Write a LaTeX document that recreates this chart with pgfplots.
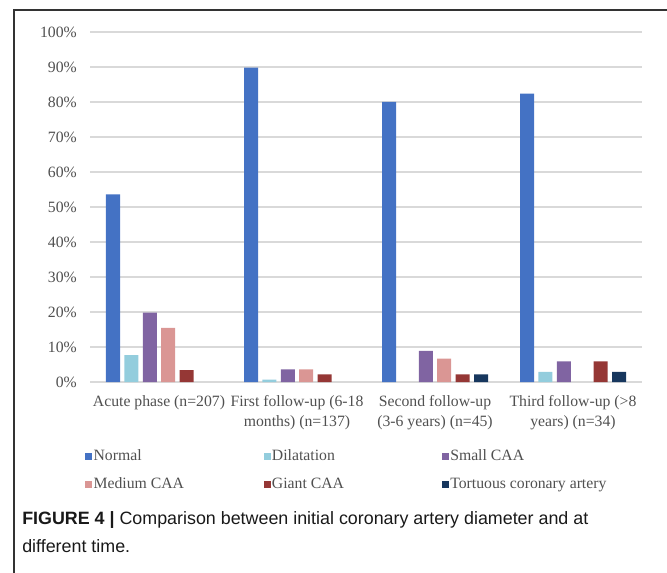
\documentclass[border=0pt]{standalone}
\usepackage{fontspec}
\setmainfont{Liberation Serif}
\newfontfamily\capfont{Liberation Sans}
\usepackage{pgfplots}
\pgfplotsset{compat=1.18}
\definecolor{cNormal}{HTML}{4472C4}
\definecolor{cDil}{HTML}{93CDDD}
\definecolor{cSmall}{HTML}{8064A2}
\definecolor{cMed}{HTML}{DA9694}
\definecolor{cGiant}{HTML}{953735}
\definecolor{cTort}{HTML}{17375E}
\definecolor{gridgray}{HTML}{D9D9D9}
\definecolor{txtgray}{HTML}{505050}
\pgfplotsset{sqlegend/.style={legend image code/.code={\fill[##1] (0pt,-2.6pt) rectangle (5.25pt,2.6pt);}}}
\newcommand{\lfont}{\fontsize{11.8}{15}\selectfont}
\begin{document}
\begin{tikzpicture}
\useasboundingbox (0,0) rectangle (500.25pt,-429.75pt);
\draw[line width=1.1pt, black!80] (10.5pt,-440pt) -- (10.5pt,-7.5pt) -- (510pt,-7.5pt);
\begin{axis}[
  at={(67.5pt,-286.5pt)}, anchor=south west,
  scale only axis, width=414pt, height=262.5pt,
  ybar=3.3pt, bar width=10.5pt,
  xmin=-0.5, xmax=3.5, ymin=0, ymax=100,
  xtick={0,1,2,3},
  xticklabels={{Acute phase (n=207)},{First follow-up (6-18\\months) (n=137)},{Second follow-up\\(3-6 years) (n=45)},{Third follow-up (>8\\years) (n=34)}},
  ytick={0,10,...,100},
  yticklabel={\pgfmathprintnumber{\tick}\%},
  /pgf/number format/assume math mode=true,
  major tick length=0pt,
  axis line style={draw=none},
  ymajorgrids, grid style={line width=1pt, color=gridgray},
  tick label style={font=\lfont, text=txtgray},
  yticklabel style={inner sep=0pt, xshift=-9.75pt},
  xticklabel style={align=center, inner sep=0pt, yshift=-10pt},
  legend columns=3,
  legend style={draw=none, fill=none, at={(-0.0163,-0.1786)}, anchor=north west,
    font=\lfont, text=txtgray, /tikz/row sep=8pt, /tikz/column sep=0pt,
    nodes={inner sep=1pt, text height=8.5pt, text depth=2.5pt}},
  legend cell align=left,
]
\addplot[fill=cNormal, draw=none, sqlegend] coordinates {(0,53.6) (1,89.8) (2,80.0) (3,82.4)};
\addlegendentry{\makebox[126.5pt][l]{Normal}}
\addplot[fill=cDil, draw=none, sqlegend] coordinates {(0,7.7) (1,0.7) (3,2.9)};
\addlegendentry{\makebox[126.5pt][l]{Dilatation}}
\addplot[fill=cSmall, draw=none, sqlegend] coordinates {(0,19.8) (1,3.6) (2,8.9) (3,5.9)};
\addlegendentry{\makebox[126.5pt][l]{Small CAA}}
\addplot[fill=cMed, draw=none, sqlegend] coordinates {(0,15.5) (1,3.6) (2,6.7)};
\addlegendentry{\makebox[126.5pt][l]{Medium CAA}}
\addplot[fill=cGiant, draw=none, sqlegend] coordinates {(0,3.4) (1,2.2) (2,2.2) (3,5.9)};
\addlegendentry{\makebox[126.5pt][l]{Giant CAA}}
\addplot[fill=cTort, draw=none, sqlegend] coordinates {(2,2.2) (3,2.9)};
\addlegendentry{\makebox[126.5pt][l]{Tortuous coronary artery}}
\end{axis}
\node[anchor=base west, inner sep=0pt, font=\capfont\fontsize{13.4}{16}\selectfont, text=black!90] at (16.5pt,-393.5pt) {\textbf{FIGURE 4 |} Comparison between initial coronary artery diameter and at};
\node[anchor=base west, inner sep=0pt, font=\capfont\fontsize{13.4}{16}\selectfont, text=black!90] at (16.5pt,-414pt) {different time.};
\end{tikzpicture}
\end{document}
